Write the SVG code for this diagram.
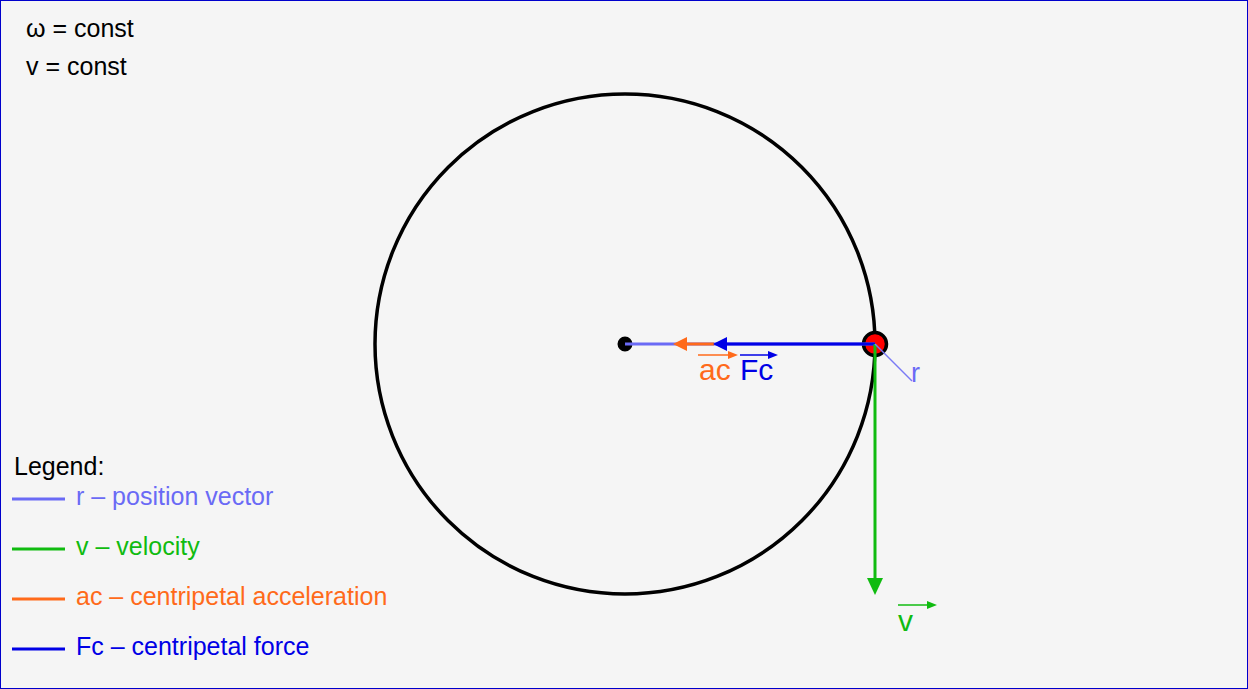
<svg xmlns="http://www.w3.org/2000/svg" width="1248" height="689" viewBox="0 0 1248 689">
<style>
  text { font-family: "Liberation Sans", Arial, sans-serif; }
  .big { font-size: 25px; }
  .lbl { font-size: 30px; }
  .cr { fill: #6a6af5; }
  .cv { fill: #10bb10; }
  .ca { fill: #ff6a1a; }
  .cf { fill: #0000e6; }
</style>
<defs>
  <marker id="hOrange" markerUnits="userSpaceOnUse" orient="auto" overflow="visible" markerWidth="14" markerHeight="14" refX="0" refY="0">
    <path d="M0,-7 L14,0 L0,7 z" fill="#ff6a1a"/>
  </marker>
  <marker id="hBlue" markerUnits="userSpaceOnUse" orient="auto" overflow="visible" markerWidth="14" markerHeight="14" refX="0" refY="0">
    <path d="M0,-7 L14,0 L0,7 z" fill="#0000e6"/>
  </marker>
  <marker id="hGreen" markerUnits="userSpaceOnUse" orient="auto" overflow="visible" markerWidth="17" markerHeight="16" refX="0" refY="0">
    <path d="M0,-8 L17,0 L0,8 z" fill="#10bb10"/>
  </marker>
  <marker id="sOrange" markerUnits="userSpaceOnUse" orient="auto" overflow="visible" markerWidth="10" markerHeight="8" refX="0" refY="0">
    <path d="M0,-4 L10,0 L0,4 z" fill="#ff6a1a"/>
  </marker>
  <marker id="sBlue" markerUnits="userSpaceOnUse" orient="auto" overflow="visible" markerWidth="10" markerHeight="8" refX="0" refY="0">
    <path d="M0,-4 L10,0 L0,4 z" fill="#0000e6"/>
  </marker>
  <marker id="sGreen" markerUnits="userSpaceOnUse" orient="auto" overflow="visible" markerWidth="10" markerHeight="8" refX="0" refY="0">
    <path d="M0,-4 L10,0 L0,4 z" fill="#10bb10"/>
  </marker>
</defs>

<rect x="0.5" y="0.5" width="1247" height="688" fill="#f5f5f5" stroke="#0000cc" stroke-width="1"/>

<g id="conditions">
  <text class="big" x="26" y="37" fill="#000">ω = const</text>
  <text class="big" x="26" y="75" fill="#000">v = const</text>
</g>

<g id="orbit">
  <circle cx="625" cy="344" r="250" fill="none" stroke="#000" stroke-width="3.5"/>
</g>

<g id="center">
  <circle cx="625" cy="344" r="6" fill="#000" stroke="#000" stroke-width="3"/>
</g>

<g id="body">
  <circle cx="875" cy="344" r="11.5" fill="#ff0000" stroke="#000" stroke-width="3.5"/>
</g>

<g id="connectors" fill="none">
  <line id="vec-r" x1="625" y1="344" x2="875" y2="344" stroke="#6a6af5" stroke-width="3"/>
  <line id="vec-ac" x1="714" y1="344" x2="687" y2="344" stroke="#ff6a1a" stroke-width="3" marker-end="url(#hOrange)"/>
  <line id="vec-fc" x1="875" y1="344" x2="727" y2="344" stroke="#0000e6" stroke-width="3" marker-end="url(#hBlue)"/>
  <line id="vec-v" x1="875" y1="344" x2="875" y2="578" stroke="#10bb10" stroke-width="3" marker-end="url(#hGreen)"/>
  <line id="r-pointer" x1="875" y1="344" x2="912" y2="381" stroke="#7a7af5" stroke-width="1.5"/>
</g>

<g id="vector-labels">
  <g id="label-ac">
    <line x1="698" y1="355" x2="728" y2="355" stroke="#ff6a1a" stroke-width="1.5" marker-end="url(#sOrange)"/>
    <text class="lbl ca" x="699" y="380">ac</text>
  </g>
  <g id="label-fc">
    <line x1="740" y1="355" x2="768" y2="355" stroke="#0000e6" stroke-width="1.5" marker-end="url(#sBlue)"/>
    <text class="lbl cf" x="740" y="380">Fc</text>
  </g>
  <g id="label-v">
    <line x1="898" y1="605" x2="927" y2="605" stroke="#10bb10" stroke-width="1.5" marker-end="url(#sGreen)"/>
    <text class="lbl cv" x="898" y="631">v</text>
  </g>
  <text id="label-r" class="cr" style="font-size:27px" x="911" y="382">r</text>
</g>

<g id="legend">
  <text class="big" x="14" y="475" fill="#000">Legend:</text>
  <line x1="12" y1="499" x2="65" y2="499" stroke="#6a6af5" stroke-width="3"/>
  <text class="big cr" x="76" y="505">r – position vector</text>
  <line x1="12" y1="549" x2="65" y2="549" stroke="#10bb10" stroke-width="3"/>
  <text class="big cv" x="76" y="555">v – velocity</text>
  <line x1="12" y1="599" x2="65" y2="599" stroke="#ff6a1a" stroke-width="3"/>
  <text class="big ca" x="76" y="605">ac – centripetal acceleration</text>
  <line x1="12" y1="649" x2="65" y2="649" stroke="#0000e6" stroke-width="3"/>
  <text class="big cf" x="76" y="655">Fc – centripetal force</text>
</g>
</svg>
